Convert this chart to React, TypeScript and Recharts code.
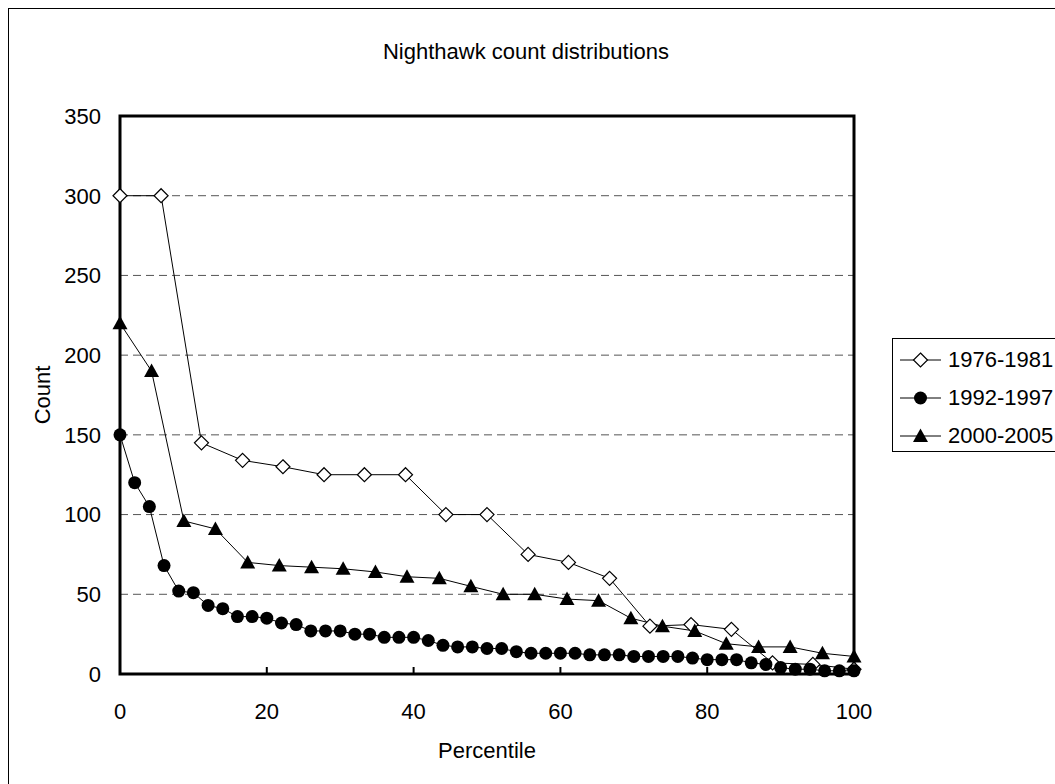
import { CartesianGrid, Line, LineChart, ReferenceArea, XAxis, YAxis } from 'recharts'

// percentile positions and counts per period
const pct7681 = [0, 5.6, 11.1, 16.7, 22.2, 27.8, 33.3, 38.9, 44.4, 50, 55.6, 61.1, 66.7, 72.2, 77.8, 83.3, 88.9, 94.4, 100]
const count7681 = [300, 300, 145, 134, 130, 125, 125, 125, 100, 100, 75, 70, 60, 30, 31, 28, 7, 6, 3]

const pct9297 = [
  0, 2, 4, 6, 8, 10, 12, 14, 16, 18, 20, 22, 24, 26, 28, 30, 32, 34, 36, 38, 40, 42, 44, 46, 48, 50,
  52, 54, 56, 58, 60, 62, 64, 66, 68, 70, 72, 74, 76, 78, 80, 82, 84, 86, 88, 90, 92, 94, 96, 98, 100,
]
const count9297 = [
  150, 120, 105, 68, 52, 51, 43, 41, 36, 36, 35, 32, 31, 27, 27, 27, 25, 25, 23, 23, 23, 21, 18, 17, 17, 16,
  16, 14, 13, 13, 13, 13, 12, 12, 12, 11, 11, 11, 11, 10, 9, 9, 9, 7, 6, 4, 3, 3, 2, 2, 2,
]

const pct0005 = [0, 4.3, 8.7, 13, 17.4, 21.7, 26.1, 30.4, 34.8, 39.1, 43.5, 47.8, 52.2, 56.5, 60.9, 65.2, 69.6, 73.9, 78.3, 82.6, 87, 91.3, 95.7, 100]
const count0005 = [220, 190, 96, 91, 70, 68, 67, 66, 64, 61, 60, 55, 50, 50, 47, 46, 35, 30, 27, 19, 17, 17, 13, 11]

const xTicks = [0, 20, 40, 60, 80, 100]
const yTicks = [0, 50, 100, 150, 200, 250, 300, 350]

const FONT = '"Liberation Sans", Arial, sans-serif'

const rows = (xs: number[], ys: number[]) => xs.map((x, i) => ({ pct: x, count: ys[i] }))

const diamondPath = (cx: number, cy: number, r: number) =>
  `M${cx},${cy - r}L${cx + r},${cy}L${cx},${cy + r}L${cx - r},${cy}Z`
const trianglePath = (cx: number, cy: number) =>
  `M${cx},${cy - 7.5}L${cx + 7.5},${cy + 6}L${cx - 7.5},${cy + 6}Z`

const renderDiamond = (p: any) =>
  p.cx == null ? null : (
    <path key={p.index} d={diamondPath(p.cx, p.cy, 7)} fill='#fff' stroke='#000' strokeWidth={1.2} />
  )
const renderCircle = (p: any) =>
  p.cx == null ? null : <circle key={p.index} cx={p.cx} cy={p.cy} r={6.5} fill='#000' />
const renderTriangle = (p: any) =>
  p.cx == null ? null : <path key={p.index} d={trianglePath(p.cx, p.cy)} fill='#000' />

const legendItems = [
  { label: '1976-1981', marker: (cx: number, cy: number) => <path d={diamondPath(cx, cy, 7)} fill='#fff' stroke='#000' strokeWidth={1.2} /> },
  { label: '1992-1997', marker: (cx: number, cy: number) => <circle cx={cx} cy={cy} r={6.5} fill='#000' /> },
  { label: '2000-2005', marker: (cx: number, cy: number) => <path d={trianglePath(cx, cy)} fill='#000' /> },
]

export default function App() {
  return (
    <>
      <style>{'html,body{margin:0;overflow:hidden;background:#fff}'}</style>
      <div
        style={{
          position: 'absolute',
          left: 8,
          top: 8,
          width: 1047,
          height: 776,
          boxSizing: 'border-box',
          borderLeft: '1px solid #000',
          borderTop: '1px solid #000',
          overflow: 'hidden',
          background: '#fff',
          fontFamily: FONT,
        }}
      >
        <div style={{ position: 'absolute', left: 0, width: 1034, top: 30, textAlign: 'center', fontSize: 22 }}>
          Nighthawk count distributions
        </div>

        <LineChart width={1038} height={767} margin={{ top: 107, right: 193, bottom: 62, left: 0 }}>
          <CartesianGrid horizontal vertical={false} stroke='#555' strokeDasharray='8 5' />
          <XAxis
            type='number'
            dataKey='pct'
            domain={[0, 100]}
            ticks={xTicks}
            height={40}
            axisLine={false}
            tickSize={-7}
            tickLine={{ stroke: '#000', strokeWidth: 2 }}
            tickMargin={36}
            tick={{ fill: '#000', fontSize: 22, fontFamily: FONT }}
            allowDuplicatedCategory={false}
          />
          <YAxis
            type='number'
            dataKey='count'
            domain={[0, 350]}
            ticks={yTicks}
            width={111}
            axisLine={false}
            tickLine={false}
            tickSize={0}
            tickMargin={19}
            tick={{ fill: '#000', fontSize: 22, fontFamily: FONT }}
          />
          <ReferenceArea x1={0} x2={100} y1={0} y2={350} fill='none' stroke='#000' strokeWidth={3} />
          <Line
            data={rows(pct7681, count7681)}
            dataKey='count'
            name='1976-1981'
            stroke='#000'
            strokeWidth={1}
            dot={renderDiamond}
            activeDot={false}
            isAnimationActive={false}
          />
          <Line
            data={rows(pct9297, count9297)}
            dataKey='count'
            name='1992-1997'
            stroke='#000'
            strokeWidth={1}
            dot={renderCircle}
            activeDot={false}
            isAnimationActive={false}
          />
          <Line
            data={rows(pct0005, count0005)}
            dataKey='count'
            name='2000-2005'
            stroke='#000'
            strokeWidth={1}
            dot={renderTriangle}
            activeDot={false}
            isAnimationActive={false}
          />
        </LineChart>

        <div style={{ position: 'absolute', left: 0, width: 956, top: 729, textAlign: 'center', fontSize: 22 }}>
          Percentile
        </div>
        <div
          style={{
            position: 'absolute',
            left: 34,
            top: 386,
            fontSize: 22,
            transform: 'translate(-50%, -50%) rotate(-90deg)',
            whiteSpace: 'nowrap',
          }}
        >
          Count
        </div>

        <div
          style={{
            position: 'absolute',
            left: 883,
            top: 329,
            width: 200,
            height: 114,
            boxSizing: 'border-box',
            border: '1px solid #000',
            background: '#fff',
          }}
        >
          {legendItems.map((item, i) => (
            <div key={item.label} style={{ position: 'absolute', left: 0, top: 2 + i * 38, height: 38, display: 'flex', alignItems: 'center' }}>
              <svg width={52} height={38} style={{ display: 'block' }}>
                <line x1={7} x2={48} y1={19} y2={19} stroke='#000' strokeWidth={1} />
                {item.marker(27.5, 19)}
              </svg>
              <span style={{ fontSize: 22, marginLeft: 3, whiteSpace: 'nowrap' }}>{item.label}</span>
            </div>
          ))}
        </div>
      </div>
    </>
  )
}
